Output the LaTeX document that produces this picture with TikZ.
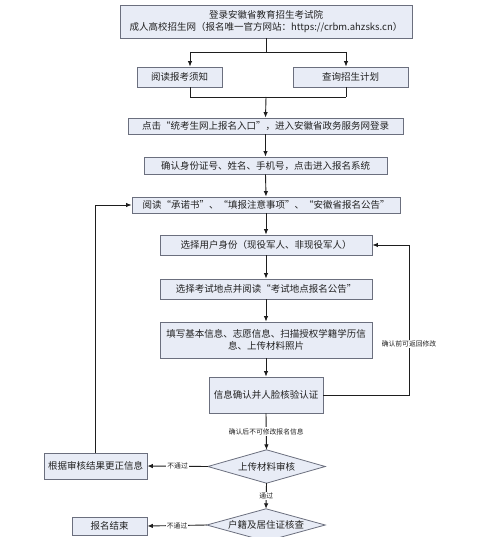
\documentclass[tikz,border=0pt]{standalone}
\usepackage{fontspec}
\setmainfont{Noto Sans CJK SC}
\usetikzlibrary{arrows.meta}
\definecolor{bf}{HTML}{E8ECF6}
\definecolor{bd}{HTML}{6B6F7E}
\definecolor{ln}{HTML}{1E1E1E}
\definecolor{tx}{HTML}{222222}
\begin{document}
\begin{tikzpicture}[x=1pt,y=-1pt,
  box/.style={draw=bd, fill=bf, line width=0.8pt, inner sep=0pt, align=center,
    font=\fontsize{9.5}{12}\selectfont, text=tx},
  diaframe/.style={inner sep=0pt, draw=none},
  diashape/.style={draw=bd, fill=bf, line width=0.8pt},
  diatext/.style={inner sep=0pt, font=\fontsize{9.5}{12}\selectfont, text=tx},
  con/.style={draw=ln, line width=0.9pt},
  arr/.style={con, -{Latex[length=5.5pt,width=4.5pt]}},
  lab/.style={fill=white, inner sep=1pt, font=\fontsize{6.8}{8}\selectfont, text=tx}]
\useasboundingbox (0,0) rectangle (500,537);
\clip (0,0) rectangle (500,537);
\fill[white] (0,0) rectangle (500,537);

\node[box, minimum width=292pt, minimum height=33pt] (b1) at (266,21.5)
  {登录安徽省教育招生考试院\\成人高校招生网（报名唯一官方网站：https://crbm.ahzsks.cn）};
\node[box, minimum width=85pt, minimum height=20pt] (b2a) at (179.5,77) {阅读报考须知};
\node[box, minimum width=115pt, minimum height=20pt] (b2b) at (350.5,77) {查询招生计划};
\node[box, minimum width=275pt, minimum height=16pt] (b3) at (265.5,126)
  {点击“统考生网上报名入口”，进入安徽省政务服务网登录};
\node[box, minimum width=243pt, minimum height=17pt] (b4) at (265.5,165.5)
  {确认身份证号、姓名、手机号，点击进入报名系统};
\node[box, minimum width=268pt, minimum height=16pt] (b5) at (266,205)
  {阅读“承诺书”、“填报注意事项”、“安徽省报名公告”};
\node[box, minimum width=212pt, minimum height=20pt] (b6) at (266,245)
  {选择用户身份（现役军人、非现役军人）};
\node[box, minimum width=212pt, minimum height=20pt] (b7) at (266,289)
  {选择考试地点并阅读“考试地点报名公告”};
\node[box, minimum width=212pt, minimum height=36pt] (b8) at (266,340)
  {填写基本信息、志愿信息、扫描授权学籍学历信\\息、上传材料照片};
\node[box, minimum width=114pt, minimum height=36pt] (b9) at (266,395)
  {信息确认并人脸核验认证};
\node[box, minimum width=103pt, minimum height=26pt] (bL) at (95.5,466)
  {根据审核结果更正信息};
\node[box, minimum width=75pt, minimum height=18pt] (bE) at (109.5,526) {报名结束};

% diamonds
\node[diaframe, minimum width=117pt, minimum height=33pt] (d1) at (266.5,466.5) {};
\node[diaframe, minimum width=118pt, minimum height=32pt] (d2) at (266,525) {};
\path[diashape] (d1.north) -- (d1.east) -- (d1.south) -- (d1.west) -- cycle;
\path[diashape] (d2.north) -- (d2.east) -- (d2.south) -- (d2.west) -- cycle;
\node[diatext] (d1t) at (d1.center) {上传材料审核};
\node[diatext] (d2t) at (d2.center) {户籍及居住证核查};

\coordinate (j1) at (266,52);
\coordinate (jL) at (190,52);
\coordinate (jR) at (346,52);
\coordinate (kL) at (190,97);
\coordinate (kR) at (346,97);
\coordinate (k) at (266,97);
\coordinate (rx) at (409,300);

\draw[con] (b1.south) -- (j1);
\draw[con] (jL) -- (jR);
\draw[arr] (jL) -- (jL |- b2a.north);
\draw[arr] (jR) -- (jR |- b2b.north);
\draw[con] (jL |- b2a.south) -- (kL) -- (kR);
\draw[con] (jR |- b2b.south) -- (kR);
\draw[arr] (k) -- (b3.north);
\draw[arr] (b3.south) -- (b4.north);
\draw[arr] (b4.south) -- (b5.north);
\draw[arr] (b5.south) -- (b6.north);
\draw[arr] (b6.south) -- (b7.north);
\draw[arr] (b7.south) -- (b8.north);
\draw[arr] (b8.south) -- (b9.north);
\draw[arr] (b9.south) -- node[lab] (l1) {确认后不可修改报名信息} (d1.north);
\draw[arr] (d1.west) -- node[lab] (l2) {不通过} (bL.east);
\draw[arr] (d1.south) -- node[lab] (l3) {通过} (d2.north);
\draw[arr] (d2.west) -- node[lab] (l4) {不通过} (bE.east);
\draw[arr] (bL.north) -- (bL.north |- b5.west) -- (b5.west);
\draw[arr] (b9.east) -- (b9.east -| rx) -- (b6.east -| rx) -- (b6.east);
\node[lab] (l5) at (409,344) {确认前可返回修改};
\end{tikzpicture}
\end{document}
